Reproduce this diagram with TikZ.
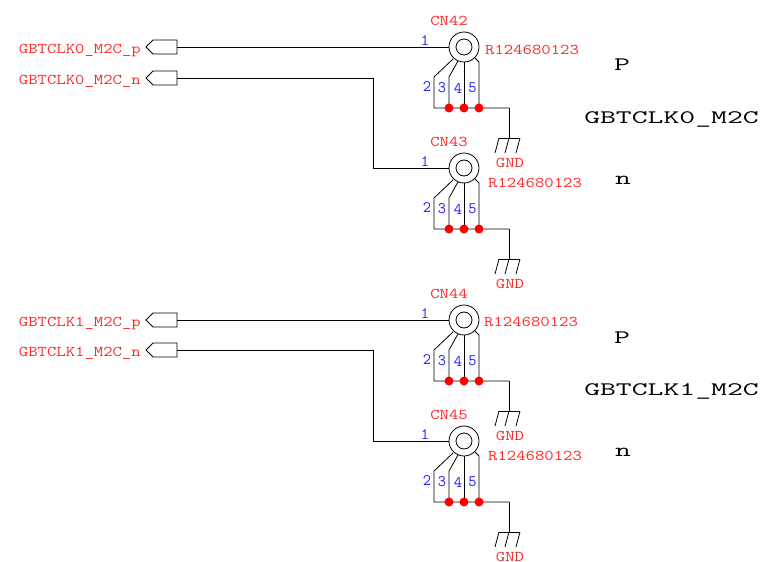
\documentclass[tikz,border=0pt]{standalone}
\usepackage{fontspec}
\setmonofont{Latin Modern Mono}
\definecolor{netred}{RGB}{255,40,40}
\definecolor{pinblue}{RGB}{30,30,255}
\newcommand{\redfont}{\fontsize{18.2}{19}\selectfont\ttfamily}
\tikzset{
  wire/.style={draw=black,line width=0.8pt},
  netlabel/.style={text=netred,font=\redfont,inner sep=0pt,yscale=0.82},
  pinlabel/.style={text=pinblue,font=\fontsize{16}{17}\selectfont\ttfamily,inner sep=0pt},
  biglabel/.style={text=black,font=\fontsize{30.8}{32}\selectfont\ttfamily,inner sep=0pt,yscale=0.62},
  dot/.style={circle,fill=red,draw=none,minimum size=9pt,inner sep=0pt},
  port/.style={wire,fill=white},
}
\newcommand{\connector}[6]{%
  % #1 id, #2 x, #3 y centre, #4 ref label, #5 ref x, #6 ref y
  \begin{scope}[shift={(#2,#3)}]
    \node[circle,wire,minimum size=30pt,inner sep=0pt] (#1o) at (0,0) {};
    \node[circle,wire,minimum size=16pt,inner sep=0pt] (#1i) at (0,0) {};
    \node[netlabel] (#1name) at (-15,-26.5) {#1};
    \coordinate (#1a) at (-30,61);
    \coordinate (#1g) at (45,61);
    \coordinate (#1j3) at (-15,61);
    \coordinate (#1j4) at (0,61);
    \coordinate (#1j5) at (15,61);
    \draw[wire] (-11,12) -- (-30,30) -- (#1a) -- (#1g);
    \draw[wire] (-6,14) -- (-15,30) -- (#1j3);
    \draw[wire] (0,15) -- (#1j4);
    \draw[wire] (11,11) -- (15,15) -- (#1j5);
    \node[dot] (#1d3) at (#1j3) {};
    \node[dot] (#1d4) at (#1j4) {};
    \node[dot] (#1d5) at (#1j5) {};
    \node[pinlabel] (#1p1) at (-39,-6) {1};
    \node[pinlabel] (#1p2) at (-37,40) {2};
    \node[pinlabel] (#1p3) at (-22,41) {3};
    \node[pinlabel] (#1p4) at (-6,41) {4};
    \node[pinlabel] (#1p5) at (8.5,41) {5};
    \coordinate (#1pin) at (-15,0);
    \coordinate (#1gt) at (45,91);
    \draw[wire] (#1g) -- (#1gt);
    \draw[wire] (35,91) -- (56,91);
    \draw[wire] (35,91) -- (31,106);
    \draw[wire] (45,91) -- (41,106);
    \draw[wire] (56,91) -- (52,106);
    \node[netlabel] (#1gnd) at (46,116) {GND};
    \node[netlabel,anchor=west] (#1ref) at (#5,#6) {#4};
  \end{scope}}
\newcommand{\portsym}[3]{%
  % #1 id, #2 y, #3 text
  \draw[port] (177,#2-7) -- (153,#2-7) -- (146,#2) -- (153,#2+7) -- (177,#2+7) -- cycle;
  \coordinate (#1) at (177,#2);
  \node[netlabel,anchor=base east] (#1t) at (141,#2+6) {#3};}
\begin{document}
\begin{tikzpicture}[x=1pt,y=-1pt]
\useasboundingbox (0,0) rectangle (766,562);
\connector{CN42}{464}{47}{R124680123}{21}{3}
\connector{CN43}{464}{168}{R124680123}{24}{15}
\connector{CN44}{464}{320}{R124680123}{20}{2}
\connector{CN45}{464}{441}{R124680123}{24}{15}
\portsym{pa}{47}{GBTCLK0\_M2C\_p}
\portsym{pb}{78}{GBTCLK0\_M2C\_n}
\portsym{pc}{320}{GBTCLK1\_M2C\_p}
\portsym{pd}{350}{GBTCLK1\_M2C\_n}
\draw[wire] (pa) -- (CN42pin);
\draw[wire] (pb) -| (373,168) -- (CN43pin);
\draw[wire] (pc) -- (CN44pin);
\draw[wire] (pd) -| (373,441) -- (CN45pin);
\node[biglabel] (a1) at (622,65) {P};
\node[biglabel] (a2) at (671.5,119) {GBTCLK0\_M2C};
\node[biglabel] (a3) at (623,180) {n};
\node[biglabel] (b1) at (622,338) {P};
\node[biglabel] (b2) at (671.5,391) {GBTCLK1\_M2C};
\node[biglabel] (b3) at (623,452) {n};
\end{tikzpicture}
\end{document}
